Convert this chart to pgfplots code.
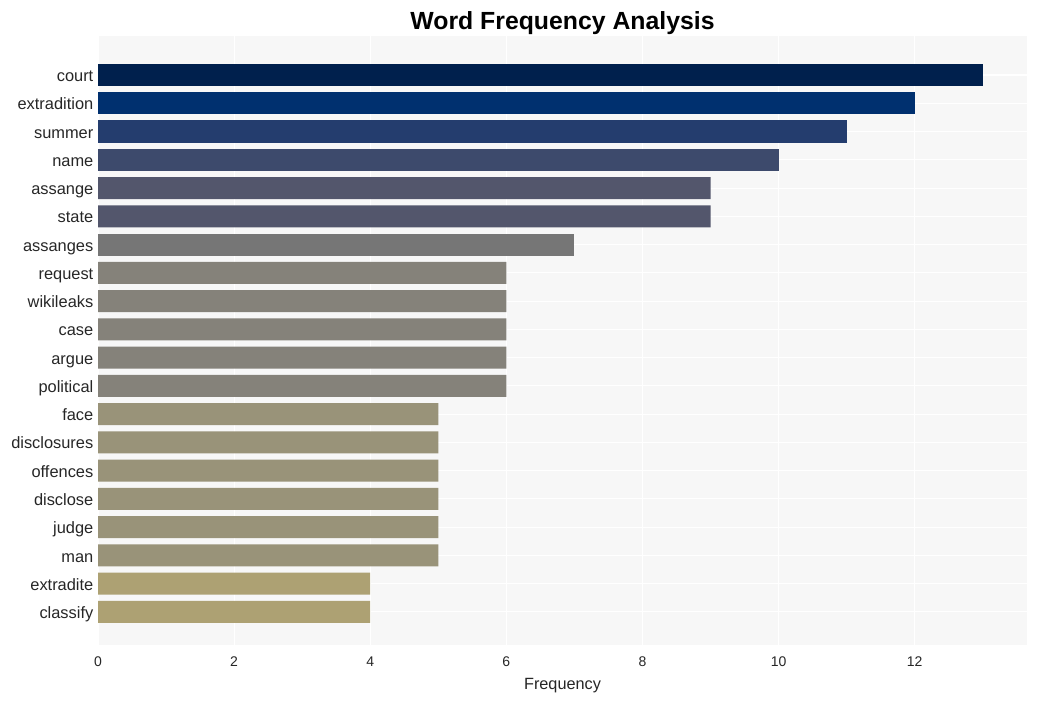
\documentclass[border=0pt]{standalone}
\usepackage{pgfplots}
\pgfplotsset{compat=1.18}
\usepackage{fontspec}
\setmainfont{Liberation Sans}
\definecolor{bg}{HTML}{F7F7F7}
\definecolor{c1}{HTML}{00204D}
\definecolor{c2}{HTML}{00306F}
\definecolor{c3}{HTML}{243D6E}
\definecolor{c4}{HTML}{3D4A6C}
\definecolor{c5}{HTML}{53566C}
\definecolor{c6}{HTML}{767676}
\definecolor{c7}{HTML}{85827A}
\definecolor{c8}{HTML}{999379}
\definecolor{c9}{HTML}{ADA173}
\begin{document}
\begin{tikzpicture}
\path[use as bounding box] (-73.5pt,-42pt) rectangle (704.25pt,483.75pt);
\begin{axis}[
  at={(0,0)}, anchor=south west,
  scale only axis, width=696.75pt, height=456.75pt,
  xbar, bar width=0.78, bar shift=0pt,
  xmin=0, xmax=13.65, ymin=-1.17, ymax=20.38,
  axis background/.style={fill=bg},
  axis line style={draw=none},
  major tick length=0pt,
  xmajorgrids, ymajorgrids,
  grid style={white, line width=0.8pt},
  xtick={0,2,4,6,8,10,12},
  ytick={0,...,19},
  yticklabels={classify,extradite,man,judge,disclose,offences,disclosures,face,political,argue,case,wikileaks,request,assanges,state,assange,name,summer,extradition,court},
  /pgf/number format/assume math mode=true,
  xticklabel style={font=\fontsize{10.5}{12}\selectfont, text=black!85, yshift=-5pt},
  yticklabel style={font=\fontsize{12.3}{14}\selectfont, text=black!85, text height=1.6ex, text depth=0.3ex, yshift=-1.5pt},
  xlabel={Frequency},
  xlabel style={font=\fontsize{12.2}{14}\selectfont, text=black!85, at={(0.5,0)}, anchor=center, yshift=-30.5pt},
  title={\bfseries Word Frequency Analysis},
  title style={font=\fontsize{18.6}{20}\selectfont, at={(0.5,1)}, anchor=center, yshift=3.5pt},
]
\addplot[fill=c1, draw=none] coordinates {(13,19)};
\addplot[fill=c2, draw=none] coordinates {(12,18)};
\addplot[fill=c3, draw=none] coordinates {(11,17)};
\addplot[fill=c4, draw=none] coordinates {(10,16)};
\addplot[fill=c5, draw=none] coordinates {(9,15) (9,14)};
\addplot[fill=c6, draw=none] coordinates {(7,13)};
\addplot[fill=c7, draw=none] coordinates {(6,12) (6,11) (6,10) (6,9) (6,8)};
\addplot[fill=c8, draw=none] coordinates {(5,7) (5,6) (5,5) (5,4) (5,3) (5,2)};
\addplot[fill=c9, draw=none] coordinates {(4,1) (4,0)};
\end{axis}
\end{tikzpicture}
\end{document}
